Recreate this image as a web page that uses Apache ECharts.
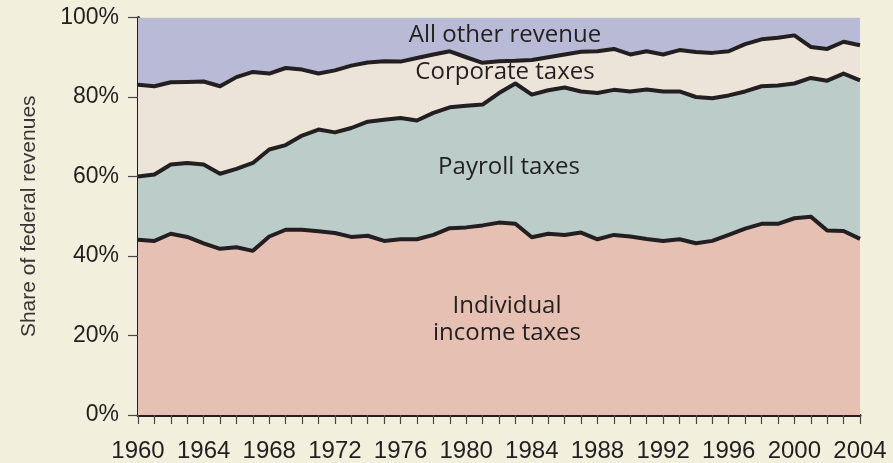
<!DOCTYPE html>
<html>
<head>
<meta charset="utf-8">
<script src="https://cdn.jsdelivr.net/npm/echarts@6/dist/echarts.min.js"></script>
<style>
  html, body { margin: 0; padding: 0; background: #f2efdd; }
  #chart { width: 893px; height: 463px; }
</style>
</head>
<body>
<div id="chart"></div>
<script>
(function(){
  // years 1960-2004, shares of federal revenue (%)
  const years = [];
  for (let y = 1960; y <= 2004; y++) years.push(String(y));

  const individual = [44.1, 43.8, 45.6, 44.8, 43.2, 41.8, 42.2, 41.3, 44.9, 46.6,
    46.6, 46.2, 45.8, 44.8, 45.1, 43.8, 44.2, 44.2, 45.3, 47.0,
    47.2, 47.7, 48.4, 48.1, 44.7, 45.6, 45.3, 45.9, 44.2, 45.3,
    44.9, 44.3, 43.8, 44.2, 43.2, 43.8, 45.3, 46.9, 48.1, 48.1,
    49.5, 49.9, 46.4, 46.3, 44.3];
  const payroll = [15.9, 16.7, 17.4, 18.6, 19.8, 18.9, 19.7, 22.1, 21.9, 21.3,
    23.7, 25.6, 25.3, 27.4, 28.7, 30.5, 30.5, 29.9, 30.7, 30.4,
    30.6, 30.4, 32.6, 35.3, 35.9, 36.1, 37.1, 35.5, 36.8, 36.5,
    36.5, 37.6, 37.6, 37.2, 36.8, 35.9, 35.1, 34.5, 34.6, 34.8,
    33.9, 34.9, 37.7, 39.6, 39.9];
  const corporate = [23.1, 22.2, 20.7, 20.4, 20.9, 22.0, 23.1, 22.9, 19.1, 19.4,
    16.6, 14.1, 15.6, 15.7, 14.9, 14.7, 14.2, 15.7, 14.7, 14.1,
    12.2, 10.5, 8.0, 5.7, 8.7, 8.3, 8.3, 10.0, 10.5, 10.3,
    9.3, 9.6, 9.3, 10.4, 11.3, 11.4, 11.1, 11.9, 11.8, 12.0,
    12.1, 7.8, 8.0, 8.0, 8.8];
  const other = [16.9, 17.3, 16.3, 16.2, 16.1, 17.3, 15.0, 13.7, 14.1, 12.7,
    13.1, 14.1, 13.3, 12.1, 11.3, 11.0, 11.1, 10.2, 9.3, 8.5,
    10.0, 11.4, 11.0, 10.9, 10.7, 10.0, 9.3, 8.6, 8.5, 7.9,
    9.3, 8.5, 9.3, 8.2, 8.7, 8.9, 8.5, 6.7, 5.5, 5.1,
    4.5, 7.4, 7.9, 6.1, 7.0];

  const yTicks = [0, 20, 40, 60, 80, 100];

  const ink = "#231f20";
  const font = "'Liberation Sans', Arial, sans-serif";
  const labelFont = "'Open Sans', 'Liberation Sans', sans-serif";

  function area(name, data, fill, z, lineW) {
    return {
      name: name, type: "line", stack: "total", data: data,
      symbol: "none", z: z,
      lineStyle: { color: ink, width: lineW, join: "round" },
      areaStyle: { color: fill, opacity: 1 }
    };
  }

  const chart = echarts.init(document.getElementById("chart"));

  chart.setOption({
    animation: false,
    backgroundColor: "#f2efdd",
    grid: { left: 138, right: 33, top: 17.5, bottom: 48 },
    xAxis: {
      type: "category", data: years, boundaryGap: false,
      axisLine: { lineStyle: { color: ink, width: 3 } },
      axisTick: { show: true, interval: 0, length: 9, lineStyle: { color: "#4a4546", width: 1.2 } },
      axisLabel: { interval: 3, color: ink, fontSize: 24, fontFamily: font, margin: 24 },
      splitLine: { show: false }
    },
    yAxis: {
      type: "value", min: yTicks[0], max: yTicks[yTicks.length - 1], interval: 20,
      name: "Share of federal revenues", nameLocation: "middle", nameGap: 98,
      nameTextStyle: { color: "#3a3536", fontSize: 21, fontFamily: font },
      axisLine: { show: true, lineStyle: { color: ink, width: 3 } },
      axisTick: { show: true, length: 10, lineStyle: { color: "#4a4546", width: 1.2 } },
      axisLabel: { color: ink, fontSize: 23, fontFamily: font, margin: 19, formatter: "{value}%" },
      splitLine: { show: false }
    },
    series: [
      area("Individual income taxes", individual, "#e6c1b3", 5, 4),
      area("Payroll taxes", payroll, "#bccdc9", 4, 4),
      area("Corporate taxes", corporate, "#ece3d9", 3, 4),
      area("All other revenue", other, "#b9bad6", 2, 0)
    ],
    graphic: [
      { type: "text", x: 505, y: 35, z: 100, style: { text: "All other revenue", fill: ink, font: "24px " + labelFont, align: "center", verticalAlign: "middle" } },
      { type: "text", x: 505, y: 72, z: 100, style: { text: "Corporate taxes", fill: ink, font: "24px " + labelFont, align: "center", verticalAlign: "middle" } },
      { type: "text", x: 509, y: 167, z: 100, style: { text: "Payroll taxes", fill: ink, font: "24px " + labelFont, align: "center", verticalAlign: "middle" } },
      { type: "text", x: 507, y: 320, z: 100, style: { text: "Individual\nincome taxes", fill: ink, font: "24px " + labelFont, align: "center", verticalAlign: "middle", lineHeight: 27 } }
    ]
  });

  window.addEventListener("resize", () => chart.resize());
})();
</script>
</body>
</html>
